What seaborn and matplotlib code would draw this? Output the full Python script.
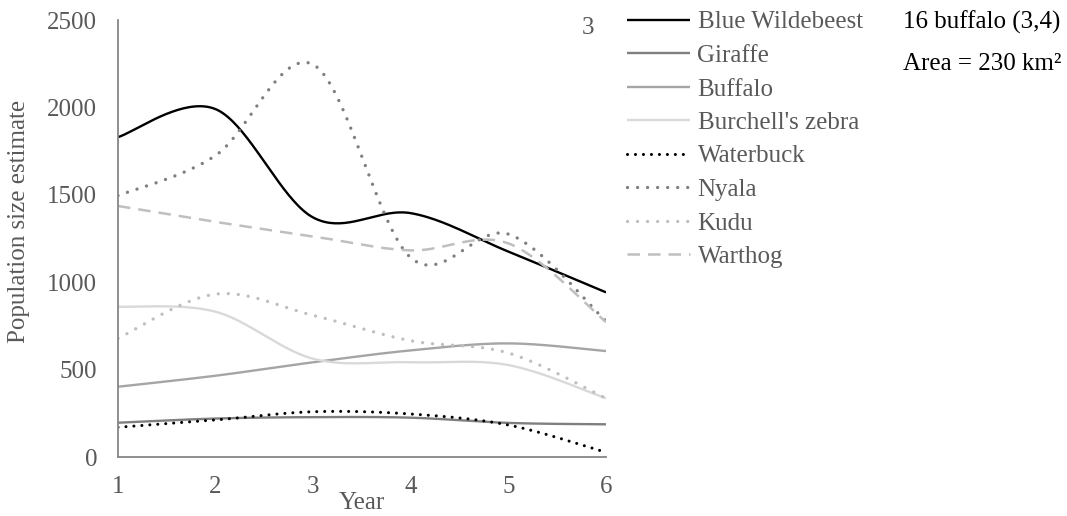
import numpy as np
import pandas as pd
import matplotlib
matplotlib.use("Agg")
import matplotlib.pyplot as plt
import seaborn as sns

years = [1, 2, 3, 4, 5, 6]
blue_wildebeest = [1830, 1990, 1370, 1395, 1175, 942]
giraffe = [196, 220, 228, 225, 195, 187]
buffalo = [402, 465, 542, 610, 650, 606]
burchells_zebra = [860, 831, 562, 542, 526, 336]
waterbuck = [170, 212, 259, 246, 183, 27]
nyala = [1495, 1725, 2245, 1140, 1275, 778]
kudu = [679, 932, 810, 665, 595, 336]
warthog = [1436, 1345, 1262, 1182, 1222, 772]

series_names = ["Blue Wildebeest", "Giraffe", "Buffalo", "Burchell's zebra",
                "Waterbuck", "Nyala", "Kudu", "Warthog"]
series_values = [blue_wildebeest, giraffe, buffalo, burchells_zebra,
                 waterbuck, nyala, kudu, warthog]

y_ticks = [0, 500, 1000, 1500, 2000, 2500]
x_ticks = years

sns.set_style("white")
plt.rcParams["font.family"] = ["Liberation Serif", "DejaVu Serif"]

FS = 18
DOT = (0, (0.01, 3.0))
styles = {
    "Blue Wildebeest": dict(color="#000000", ls="-", lw=1.7),
    "Giraffe": dict(color="#7f7f7f", ls="-", lw=1.7),
    "Buffalo": dict(color="#a5a5a5", ls="-", lw=1.7),
    "Burchell's zebra": dict(color="#d9d9d9", ls="-", lw=1.7),
    "Waterbuck": dict(color="#000000", ls=(0, (0.01, 2.6)), lw=2.2),
    "Nyala": dict(color="#7f7f7f", ls=DOT, lw=2.4),
    "Kudu": dict(color="#bfbfbf", ls=DOT, lw=2.4),
    "Warthog": dict(color="#bfbfbf", ls=(0, (5.0, 3.2)), lw=1.8),
}


def smooth(xs, ys, n=40):
    """Bezier smoothing like spreadsheet 'smoothed line' rendering."""
    xs = np.asarray(xs, float)
    ys = np.asarray(ys, float)
    P = np.column_stack([xs, ys])
    pts = []
    m = len(P)
    for i in range(m - 1):
        p0 = P[i - 1] if i > 0 else P[i]
        p1 = P[i]
        p2 = P[i + 1]
        p3 = P[i + 2] if i + 2 < m else P[i + 1]
        c1 = p1 + (p2 - p0) / 6.0
        c2 = p2 - (p3 - p1) / 6.0
        t = np.linspace(0, 1, n, endpoint=(i == m - 2))[:, None]
        b = ((1 - t) ** 3) * p1 + 3 * ((1 - t) ** 2) * t * c1 + 3 * (1 - t) * t ** 2 * c2 + t ** 3 * p2
        pts.append(b)
    B = np.vstack(pts)
    return B[:, 0], B[:, 1]


fig = plt.figure(figsize=(10.67, 5.16), dpi=100)
ax = fig.add_axes([118 / 1067, 59 / 516, 488 / 1067, 437 / 516])

handles = []
for name, vals in zip(series_names, series_values):
    sx, sy = smooth(years, vals)
    st = styles[name]
    sns.lineplot(x=sx, y=sy, ax=ax, sort=False, estimator=None,
                 color=st["color"], linestyle=st["ls"], linewidth=st["lw"],
                 label=name)
    ln = ax.get_lines()[-1]
    ln.set_dash_capstyle("round")
    ln.set_solid_capstyle("butt")
    if name == "Warthog":
        ln.set_dash_capstyle("butt")
    handles.append(ln)

ax.set_xlim(1, 6)
ax.set_ylim(0, 2500)
ax.set_xticks(x_ticks)
ax.set_yticks(y_ticks)
ax.tick_params(axis="both", length=0, labelsize=FS, labelcolor="#595959")
ax.tick_params(axis="x", pad=14)
ax.tick_params(axis="y", pad=15)
for s in ["top", "right"]:
    ax.spines[s].set_visible(False)
for s in ["left", "bottom"]:
    ax.spines[s].set_color("#868686")
    ax.spines[s].set_linewidth(1.3)
ax.grid(False)

ax.set_ylabel("")
ax.set_xlabel("")
fig.text(19 / 1067, 1 - 221 / 516, "Population size estimate", fontsize=FS,
         color="#595959", rotation=90, ha="center", va="center")
fig.text(362 / 1067, 1 - 503 / 516, "Year", fontsize=FS, color="#595959",
         ha="center", va="center")

leg = ax.legend(handles=handles, labels=series_names, loc="upper left",
                bbox_to_anchor=(627 / 1067, 1 - 11 / 516), bbox_transform=fig.transFigure,
                frameon=False, fontsize=FS, handlelength=2.52, handletextpad=0.3,
                labelspacing=0.44, borderaxespad=0, borderpad=0)
for t in leg.get_texts():
    t.set_color("#595959")

fig.text(588 / 1067, 1 - 28 / 516, "3", fontsize=FS, color="#595959",
         ha="center", va="center")
fig.text(903 / 1067, 1 - 22 / 516, "16 buffalo (3,4)", fontsize=FS, color="#000000",
         ha="left", va="center")
fig.text(903 / 1067, 1 - 64 / 516, "Area = 230 km\u00b2", fontsize=FS, color="#000000",
         ha="left", va="center")

fig.savefig("out.png", dpi=100)
